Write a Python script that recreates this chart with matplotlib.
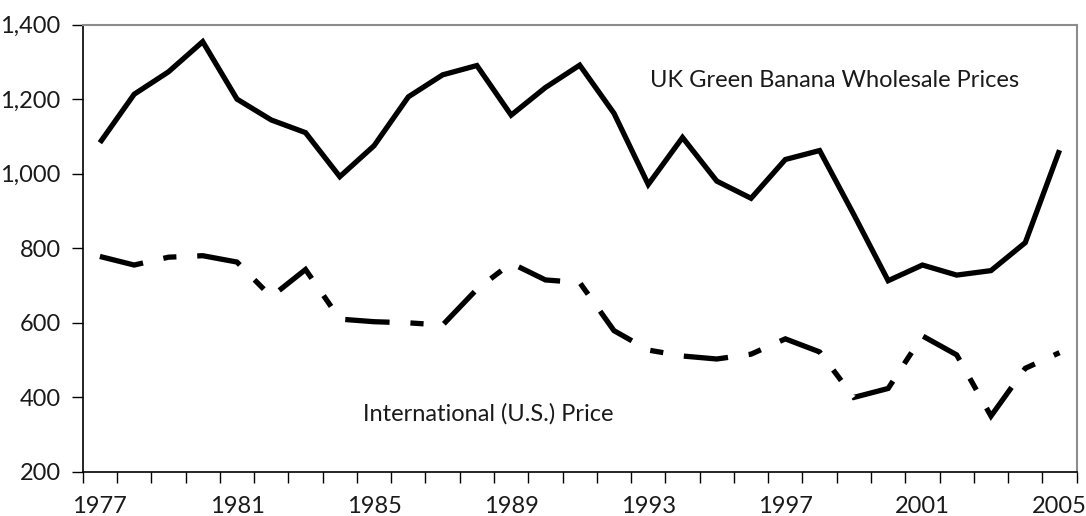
import numpy as np
import matplotlib.pyplot as plt
from matplotlib.ticker import FixedLocator, FuncFormatter

years = list(range(1977, 2006))
uk_prices = [1083, 1213, 1273, 1354, 1200, 1144, 1110, 992, 1075, 1206,
             1265, 1290, 1157, 1231, 1291, 1162, 971, 1097, 980, 934,
             1038, 1062, 890, 713, 755, 728, 740, 815, 1063]
us_prices = [778, 755, 776, 780, 763, 670, 743, 610, 603, 600,
             594, 690, 760, 715, 708, 579, 527, 511, 503, 516,
             557, 522, 400, 424, 565, 514, 350, 478, 520]
label_years = [1977, 1981, 1985, 1989, 1993, 1997, 2001, 2005]
y_ticks = [200, 400, 600, 800, 1000, 1200, 1400]

plt.rcParams['font.family'] = ['Lato', 'DejaVu Sans']
plt.rcParams['lines.scale_dashes'] = False
text_col = '#1a1a1a'
fs = 17

fig = plt.figure(figsize=(10.86, 5.16), dpi=100)
ax = fig.add_axes([0.0762, 0.0853, 0.9152, 0.8672])

ax.plot(years, uk_prices, color='black', lw=3.8, solid_joinstyle='miter',
        solid_capstyle='butt')
ax.plot(years, us_prices, color='black', lw=3.8, dashes=(32, 15, 9.5, 15),
        dash_capstyle='butt', dash_joinstyle='miter')

ax.set_xlim(1976.5, 2005.5)
ax.set_ylim(200, 1400)

ax.xaxis.set_major_locator(FixedLocator(label_years))
ax.xaxis.set_minor_locator(FixedLocator([y - 0.5 for y in years] + [2005.5]))
ax.tick_params(axis='x', which='major', length=0, pad=17, labelsize=fs,
               labelcolor=text_col)
ax.tick_params(axis='x', which='minor', length=8, width=1, direction='out')
ax.set_yticks(y_ticks)
ax.yaxis.set_major_formatter(FuncFormatter(lambda v, p: "{:,.0f}".format(v)))
ax.tick_params(axis='y', length=8, width=1, pad=8, labelsize=fs,
               labelcolor=text_col)

for s in ['top', 'right']:
    ax.spines[s].set_color('#8c8c8c')
    ax.spines[s].set_linewidth(1.5)
for s in ['left', 'bottom']:
    ax.spines[s].set_color('black')
    ax.spines[s].set_linewidth(1.2)

ax.text(1998.45, 1251, "UK Green Banana Wholesale Prices", ha='center',
        va='center', fontsize=fs, color=text_col)
ax.text(1988.33, 357, "International (U.S.) Price", ha='center',
        va='center', fontsize=fs, color=text_col)

fig.savefig("out.png", dpi=100)
